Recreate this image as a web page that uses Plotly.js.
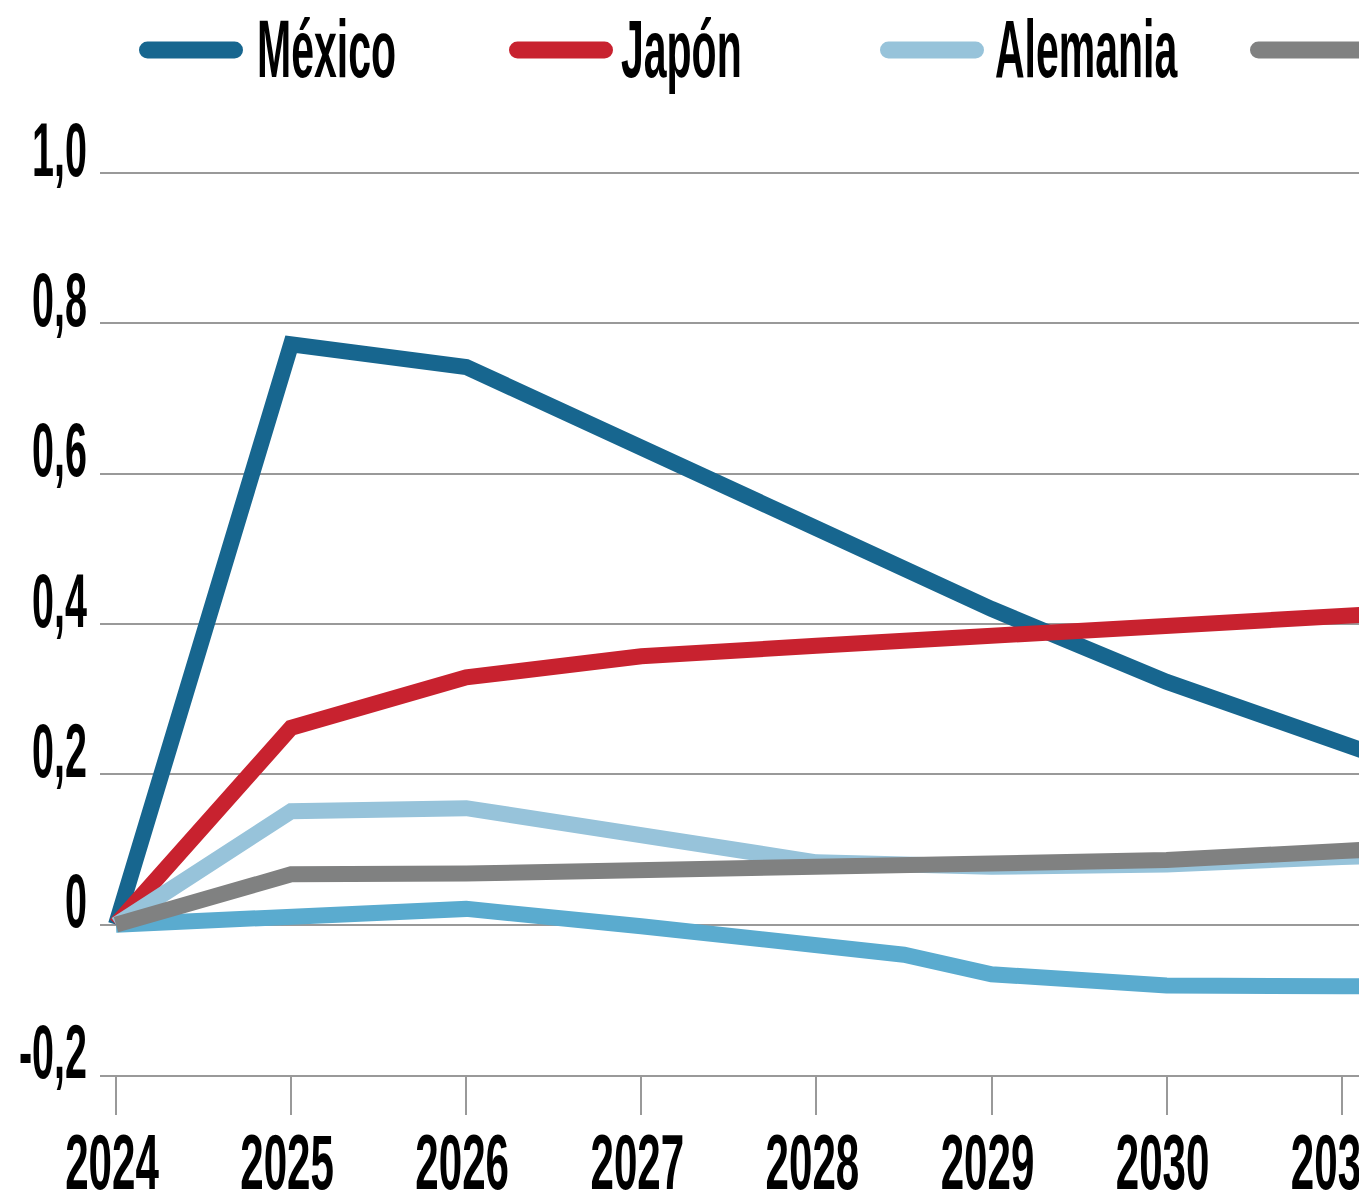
<!DOCTYPE html>
<html>
<head>
<meta charset="utf-8">
<script src="https://cdn.plot.ly/plotly-3.0.1.min.js"></script>
<style>
html, body { margin: 0; padding: 0; background: #ffffff; overflow: hidden; }
#chart { width: 1359px; height: 1197px; }
</style>
</head>
<body>
<div id="chart"></div>
<script>
// ---- data ----
const years = [2024, 2025, 2026, 2027, 2028, 2029, 2030, 2031, 2032];
const mexico = [0, 0.772, 0.742, 0.634, 0.527, 0.420, 0.323, 0.246, 0.160];
const japon = [0, 0.262, 0.329, 0.357, 0.371, 0.384, 0.397, 0.411, 0.424];
const alemania = [0, 0.151, 0.155, 0.120, 0.083, 0.077, 0.080, 0.090, 0.097];
const serie4 = [0, 0.067, 0.068, 0.072, 0.077, 0.081, 0.086, 0.098, 0.110];
const years5 = [2024, 2025, 2026, 2027, 2028, 2028.5, 2029, 2030, 2031, 2032];
const serie5 = [0, 0.010, 0.021, -0.002, -0.025, -0.040, -0.066, -0.081, -0.082, -0.082];

const seriesNames = ['México', 'Japón', 'Alemania', 'Serie 4', 'Serie 5'];
const legendLabels = ['México', 'Japón', 'Alemania'];

const xTickVals = [2024, 2025, 2026, 2027, 2028, 2029, 2030, 2031];
const xTickText = ['2024', '2025', '2026', '2027', '2028', '2029', '2030', '2031'];
const yTickVals = [-0.2, 0, 0.2, 0.4, 0.6, 0.8, 1.0];
const yTickText = ['-0,2', '0', '0,2', '0,4', '0,6', '0,8', '1,0'];

// ---- styling ----
const colors = {
  mexico: '#17668f',
  japon: '#c8222f',
  alemania: '#97c3da',
  serie4: '#808181',
  serie5: '#5aabcf'
};
const FONT = 'Liberation Sans, Arial, Helvetica, sans-serif';
const W = 1359, H = 1197;
const M = { l: 100, r: 0, t: 158, b: 122 };
const plotW = W - M.l - M.r;
const plotH = H - M.t - M.b;
const px2x = px => (px - M.l) / plotW;
const px2y = py => (H - M.b - py) / plotH;

const lw = 16;
const traces = [
  { x: years, y: mexico, name: seriesNames[0], color: colors.mexico },
  { x: years, y: japon, name: seriesNames[1], color: colors.japon },
  { x: years, y: alemania, name: seriesNames[2], color: colors.alemania },
  { x: years5, y: serie5, name: seriesNames[4], color: colors.serie5 },
  { x: years, y: serie4, name: seriesNames[3], color: colors.serie4 }
].map(s => ({
  type: 'scatter', mode: 'lines', x: s.x, y: s.y, name: s.name,
  line: { color: s.color, width: lw }, hoverinfo: 'skip', showlegend: false
}));

// manual legend (line swatches + labels), positioned in pixels
const legendItems = [
  { color: colors.mexico, x0: 139, x1: 243, label: legendLabels[0], tx: 256 },
  { color: colors.japon, x0: 509, x1: 613, label: legendLabels[1], tx: 620 },
  { color: colors.alemania, x0: 880, x1: 984, label: legendLabels[2], tx: 994 },
  { color: colors.serie4, x0: 1250, x1: 1400, label: null, tx: null }
];
const legendY = 50;
const swW = 17;
const shapes = legendItems.map(it => ({
  type: 'line', xref: 'paper', yref: 'paper',
  x0: px2x(it.x0 + swW / 2), x1: px2x(it.x1 - swW / 2),
  y0: px2y(legendY), y1: px2y(legendY),
  line: { color: it.color, width: swW }
}));
const annotations = legendItems.filter(it => it.label).map(it => ({
  xref: 'paper', yref: 'paper', x: px2x(it.tx), y: px2y(legendY - 1),
  xanchor: 'left', yanchor: 'middle', align: 'left', showarrow: false,
  text: it.label, borderpad: 0,
  font: { family: FONT, size: 82, color: '#000000', weight: 'bold' }
}));

const layout = {
  width: W, height: H, autosize: false,
  margin: M,
  paper_bgcolor: '#ffffff', plot_bgcolor: '#ffffff',
  showlegend: false,
  xaxis: {
    range: [2024 - 16 / 175.1, 2024 + (W - M.l - 16) / 175.1],
    tickvals: xTickVals, ticktext: xTickText,
    ticks: 'outside', ticklen: 38, tickwidth: 2, tickcolor: '#999999',
    showline: true, linecolor: '#999999', linewidth: 2,
    showgrid: false, zeroline: false,
    tickangle: 0, automargin: false,
    ticklabeloverflow: 'allow',
    ticklabelstandoff: -20, ticklabelshift: -4,
    tickfont: { family: FONT, size: 78, color: '#000000', weight: 'bold' }
  },
  yaxis: {
    range: [-0.2, 1.02],
    tickvals: yTickVals, ticktext: yTickText,
    showgrid: true, gridcolor: '#999999', gridwidth: 2,
    zeroline: false, showline: false, ticks: '',
    automargin: false,
    ticklabelstandoff: 12, ticklabelshift: -24,
    tickfont: { family: FONT, size: 76, color: '#000000', weight: 'bold' }
  },
  shapes: shapes,
  annotations: annotations
};

function condense(selector, factor) {
  document.querySelectorAll(selector).forEach(t => {
    const w = t.getComputedTextLength();
    if (w > 0) {
      t.setAttribute('textLength', (w * factor).toFixed(1));
      t.setAttribute('lengthAdjust', 'spacingAndGlyphs');
    }
  });
}

Plotly.newPlot('chart', traces, layout, { staticPlot: true, displayModeBar: false }).then(() => {
  condense('.xtick text', 0.54);
  condense('.ytick text', 0.52);
  condense('.annotation-text', 0.5);
  document.querySelectorAll('.shapelayer path').forEach(p => { p.style.strokeLinecap = 'round'; });
});
</script>
</body>
</html>
